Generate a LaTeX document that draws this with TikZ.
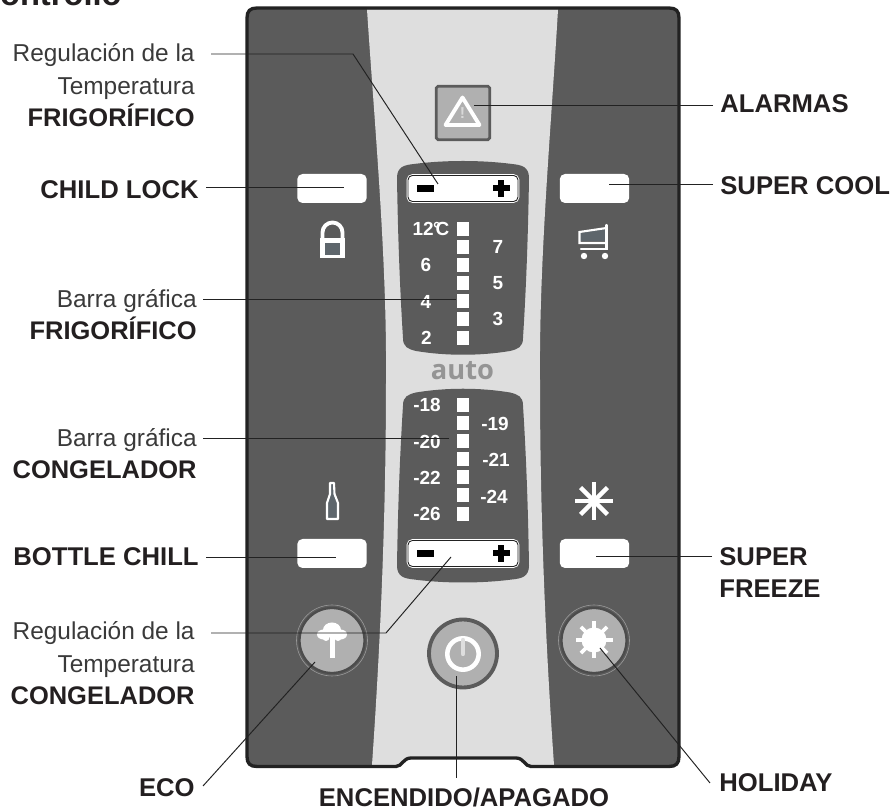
\documentclass[tikz,border=0pt]{standalone}
\usepackage{fontspec}
\setmainfont{Liberation Sans}
\newfontfamily\autofont{Open Sans}
\usepackage{tikz}
\usetikzlibrary{arrows.meta,positioning,calc}
\definecolor{panelgray}{HTML}{5B5B5B}
\definecolor{panelline}{HTML}{222222}
\definecolor{bandgray}{HTML}{DEDEDE}
\definecolor{keygray}{HTML}{B0B0B0}
\definecolor{iconfill}{HTML}{5E666C}
\definecolor{inktext}{HTML}{231F20}
\definecolor{lighttext}{HTML}{3A3A3A}
\tikzset{
  boldlabel/.style={font=\fontsize{14.6}{18.5}\selectfont\bfseries, text=inktext, align=#1, inner sep=4pt},
  boldlabel/.default=right,
  lightlabel/.style={font=\fontsize{13.9}{18.5}\selectfont, text=lighttext, align=right, inner sep=4pt},
  keybtn/.style={rectangle, rounded corners=3pt, fill=white, minimum width=1.39cm, minimum height=0.58cm, inner sep=0pt},
  barbtn/.style={rectangle, rounded corners=2.5pt, fill=white, draw=panelline, line width=0.5pt, minimum width=2.2cm, minimum height=0.52cm, inner sep=0pt,
    preaction={draw=white, line width=1.5pt}},
  ledbox/.style={rectangle, fill=white, minimum width=0.24cm, minimum height=0.28cm, inner sep=0pt},
  scalenum/.style={font=\fontsize{10.8}{12}\selectfont\bfseries, text=white, inner sep=0pt},
  roundkey/.style={circle, fill=keygray, draw=#1, line width=1.3pt, minimum size=1.3cm, inner sep=0pt},
  roundrim/.style={circle, draw=black!40, line width=0.35pt, minimum size=1.42cm, inner sep=0pt},
  leader/.style={draw=panelline, line width=0.55pt},
  iconline/.style={draw=white, line width=1.2pt},
}
\newcommand{\loudword}[1]{{\fontsize{14.5}{18.5}\selectfont\bfseries\color{inktext}#1}}
\newcommand{\panelshape}{(257,8) -- (669,8) .. controls (676,8) and (679,11) .. (679,18)
    -- (679,756.5) .. controls (679,763.5) and (676,766.5) .. (669,766.5) -- (531,766.5)
    .. controls (525,766.5) and (524,758) .. (516,758) -- (411,758)
    .. controls (403,758) and (402,766.5) .. (396,766.5) -- (257,766.5)
    .. controls (250,766.5) and (247,763.5) .. (247,756.5) -- (247,18)
    .. controls (247,11) and (250,8) .. (257,8) -- cycle}
\newcommand{\dialshape}{(397,178) .. controls (397,167) and (404,165) .. (414,164)
  .. controls (445,160) and (481,160) .. (512,164) .. controls (522,165) and (529,167) .. (529,178)
  .. controls (528,240) and (526,290) .. (523,338) .. controls (523,347) and (518,349) .. (510,351)
  .. controls (480,356) and (446,356) .. (416,351) .. controls (408,349) and (403,347) .. (403,338)
  .. controls (400,290) and (398,240) .. (397,178) -- cycle}
\begin{document}
\begin{tikzpicture}[x=0.02cm, y=-0.02cm]
  \clip (0,0) rectangle (894,810);
  % panel and light band
  \fill[panelgray] \panelshape;
  \fill[bandgray] (367,9.5) .. controls (375,130) and (387,260) .. (386,380)
    .. controls (386,520) and (380,650) .. (372,765) -- (397,765)
    .. controls (402,765) and (403,757) .. (411,757) -- (516,757)
    .. controls (524,757) and (525,765) .. (530,765) -- (554,765)
    .. controls (546,650) and (540,520) .. (540,380) .. controls (539,260) and (551,130) .. (558,9.5) -- cycle;
  \draw[draw=panelline, line width=1.9pt] \panelshape;
  \fill[panelgray] \dialshape;
  \begin{scope}[shift={(0,743.5)}, yscale=-1]
    \fill[panelgray] \dialshape;
  \end{scope}
  % alarm key
  \node[rectangle, rounded corners=1pt, fill=keygray, draw=panelgray, line width=1.6pt, minimum size=1.07cm, inner sep=0pt] (alarmkey) at (463,113) {};
  \draw[iconline, line width=2.2pt, line join=round] (462.5,97.5) -- (479.5,125) -- (445.5,125) -- cycle;
  \node[font=\fontsize{9}{9}\selectfont\bfseries, text=white!85!black, inner sep=0pt] (alarmmark) at (462.5,113.5) {!};
  % push keys
  \node[keybtn] (lockkey) at (332,188.5) {};
  \node[keybtn] (coolkey) at (594.5,188.5) {};
  \node[keybtn] (bottlekey) at (332,553.5) {};
  \node[keybtn] (freezekey) at (594.5,553.5) {};
  \node[barbtn] (fridgebar) at (463,188.5) {};
  \node[barbtn] (freezerbar) at (463,553.5) {};
  \foreach \yy in {188.5,553.5} {
    \fill (417,\yy-3.5) rectangle (434,\yy+3.5);
    \fill (492.5,\yy-3) rectangle (509.5,\yy+3);
    \fill (498,\yy-8.5) rectangle (504,\yy+8.5);
  }
  % led bars
  \foreach \yy [count=\ii] in {229,247,265,283,301,319,338}
    \node[ledbox] (fled\ii) at (463,\yy) {};
  \foreach \yy [count=\ii] in {405,423,441,459,477,495,514}
    \node[ledbox] (cled\ii) at (463,\yy) {};
  \node[scalenum] (t12) at (431,229) {12\kern-.4pt°\kern-2.8pt C};
  \foreach \tname/\xx/\yy in {6/426/265,4/426/302,2/426.5/338,7/498/247,5/498/283,3/498/319}
    \node[scalenum] (t\tname) at (\xx,\yy) {\tname};
  \foreach \tname/\xx/\yy in {18/427/405,20/427/442,22/427/478,26/427/514,19/495/423.5,21/496/460,24/494/496.5}
    \node[scalenum] (tm\tname) at (\xx,\yy) {-\tname};
  \node[font=\autofont\fontsize{15.5}{16}\selectfont\bfseries, text=black!42, inner sep=0pt] (autotxt) at (462.5,371) {auto};
  % icons
  \fill[white] (320,238) rectangle (345,258);
  \fill[iconfill] (325,243) rectangle (340,255);
  \draw[iconline, line width=2.2pt] (322.5,239) -- (322.5,232.5) arc[start angle=180, end angle=360, radius=10] -- (342.5,239);
  \fill[iconfill] (580,233) -- (605,229) -- (605,241) -- (580,241) -- cycle;
  \draw[iconline, line cap=round] (606.5,225) -- (606.5,249) -- (581,249);
  \draw[iconline] (606.5,228) -- (579.5,232) -- (579.5,243) -- (606.5,243);
  \fill[white] (584,256) circle (3.2) (605,256) circle (3.2);
  \draw[iconline, fill=iconfill, line join=round] (330,483) -- (334,483) -- (334.5,494) -- (338,503) -- (338,519) -- (327,519) -- (327,503) -- (330,494) -- cycle;
  \foreach \ang in {0,45,...,315}
    \draw[white, line width=2.5pt] (594,501) -- ++(\ang:19);
  % round keys
  \node[roundrim] (ecorim) at (332,640.5) {};
  \node[roundkey=black!70] (ecokey) at (332,640.5) {};
  \node[roundrim] (holrim) at (594,640.5) {};
  \node[roundkey=black!70] (holkey) at (594,640.5) {};
  \node[roundkey=panelgray, line width=2.2pt, minimum size=1.36cm] (powerkey) at (463,653.5) {};
  \fill[white] (332,630) ellipse (9 and 7.5) (323.5,634.5) ellipse (6.5 and 5) (340.5,634.5) ellipse (6.5 and 5)
    (326,637.5) circle (3.5) (338,637.5) circle (3.5);
  \fill[white] (329.5,634) rectangle (334.5,658);
  \fill[white] (594,640) circle (12.5);
  \foreach \ang in {0,45,...,315}
    \draw[white, line width=2.2pt] (594,640) -- ++(\ang:18.5);
  \draw[white, line width=2.6pt] (463,654) circle (15.7);
  \draw[bandgray, line width=2.5pt, line cap=round] (463,640) -- (463,654);
  % labels
  \node[lightlabel, anchor=base east] (regfrig) at (202,127) {Regulación de la\\Temperatura\\\loudword{FRIGORÍFICO}};
  \node[boldlabel, anchor=base east] (childlock) at (206,199) {CHILD LOCK};
  \node[lightlabel, anchor=base east] (barfrig) at (204,340) {Barra gráfica\\\loudword{FRIGORÍFICO}};
  \node[lightlabel, anchor=base east] (barcong) at (204,479) {Barra gráfica\\\loudword{CONGELADOR}};
  \node[boldlabel, anchor=base east] (bottlechill) at (206,566) {BOTTLE CHILL};
  \node[lightlabel, anchor=base east] (regcong) at (202,705) {Regulación de la\\Temperatura\\\loudword{CONGELADOR}};
  \node[boldlabel, anchor=base east] (ecolbl) at (202,797) {ECO};
  \node[boldlabel, anchor=base, inner sep=0pt] (powerlbl) at (464,807) {ENCENDIDO/APAGADO};
  \node[boldlabel, anchor=base west] (alarmlbl) at (713,113) {ALARMAS};
  \node[boldlabel, anchor=base west] (coollbl) at (713,195) {SUPER COOL};
  \node[boldlabel=left, anchor=base west] (freezelbl) at (712,598) {SUPER\\FREEZE};
  \node[boldlabel, anchor=base west] (holidaylbl) at (712,792) {HOLIDAY};
  \node[font=\fontsize{18.6}{20}\selectfont\bfseries, text=inktext, anchor=base east, inner sep=0pt] (titlelbl) at (122,5.5) {Controllo};
  % connectors
  \coordinate (bendfrig) at (353,54);
  \coordinate (endfrig) at (438,184);
  \coordinate (startfrig) at (211,54);
  \draw[leader] (startfrig) -- (bendfrig) -- (endfrig);
  \coordinate (endalarm) at (474,105);
  \draw[leader] (alarmlbl.west |- endalarm) -- (endalarm);
  \coordinate (endlock) at (344,187);
  \draw[leader] (childlock.east |- endlock) -- (endlock);
  \coordinate (endcool) at (609,184);
  \draw[leader] (coollbl.west |- endcool) -- (endcool);
  \coordinate (endbarf) at (456,299);
  \coordinate (startbarf) at (203,299);
  \draw[leader] (startbarf) -- (endbarf);
  \coordinate (endbarc) at (449,438);
  \coordinate (startbarc) at (203,438);
  \draw[leader] (startbarc) -- (endbarc);
  \coordinate (endbottle) at (336,557);
  \draw[leader] (bottlechill.east |- endbottle) -- (endbottle);
  \coordinate (endfreeze) at (596,556);
  \draw[leader] (freezelbl.west |- endfreeze) -- (endfreeze);
  \coordinate (startcong) at (211,633);
  \coordinate (bendcong) at (386,633);
  \coordinate (endcong) at (451,557);
  \draw[leader] (startcong) -- (bendcong) -- (endcong);
  \coordinate (endeco) at (315,662);
  \coordinate (starteco) at (203,786);
  \draw[leader] (starteco) -- (endeco);
  \coordinate (endpower) at (456,676);
  \coordinate (startpower) at (456,778);
  \draw[leader] (startpower) -- (endpower);
  \coordinate (endhol) at (600,648);
  \coordinate (starthol) at (710,783);
  \draw[leader] (starthol) -- (endhol);
\end{tikzpicture}
\end{document}
